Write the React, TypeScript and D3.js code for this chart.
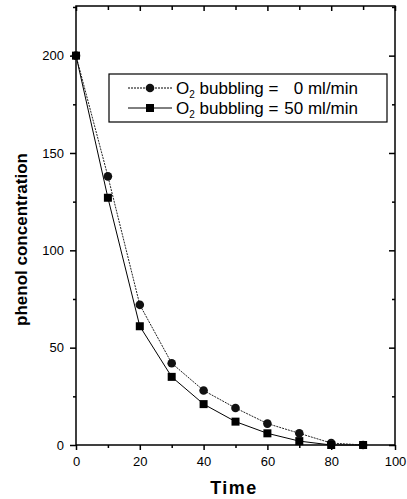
import React, { useEffect, useRef } from "react";
import * as d3 from "d3";

const times = [0, 10, 20, 30, 40, 50, 60, 70, 80, 90];
const noBubbling = [200, 138, 72, 42, 28, 19, 11, 6, 1, 0];
const bubbling50 = [200, 127, 61, 35, 21, 12, 6, 2, 0, 0];
const xTicks = [0, 20, 40, 60, 80, 100];
const yTicks = [0, 50, 100, 150, 200];
const legendLabels = ["0 ml/min", "50 ml/min"];

const App = () => {
	const svgRef = useRef<SVGSVGElement | null>(null);

	useEffect(() => {
		const svg = d3.select(svgRef.current);
		svg.selectAll("*").remove();

		const left = 76, right = 395, top = 6, bottom = 445;
		const font = "Arial, 'Liberation Sans', sans-serif";

		const x = d3.scaleLinear().domain([0, 100]).range([left, right]);
		const y = d3.scaleLinear().domain([0, 225.5]).range([bottom, top]);

		// frame
		svg
			.append("rect")
			.attr("x", left)
			.attr("y", top)
			.attr("width", right - left)
			.attr("height", bottom - top)
			.attr("fill", "none")
			.attr("stroke", "#000")
			.attr("stroke-width", 1.5);

		const styleAxis = (g) => {
			g.select(".domain").remove();
			g.selectAll("line").attr("stroke", "#000").attr("stroke-width", 1.5);
			g.selectAll("text")
				.attr("font-family", font)
				.attr("font-size", 13)
				.attr("fill", "#000");
		};

		// bottom axis, ticks outward
		const xMinor = d3.range(10, 100, 20);
		svg
			.append("g")
			.attr("transform", `translate(0,${bottom})`)
			.call(d3.axisBottom(x).tickValues(xTicks).tickSize(5).tickPadding(7).tickFormat(d3.format("d")))
			.call(styleAxis);
		svg
			.append("g")
			.attr("transform", `translate(0,${bottom})`)
			.call(d3.axisBottom(x).tickValues(xMinor).tickSize(3).tickFormat(() => ""))
			.call(styleAxis);

		// top axis, ticks inward
		svg
			.append("g")
			.attr("transform", `translate(0,${top})`)
			.call(d3.axisBottom(x).tickValues(xTicks).tickSize(5).tickFormat(() => ""))
			.call(styleAxis);
		svg
			.append("g")
			.attr("transform", `translate(0,${top})`)
			.call(d3.axisBottom(x).tickValues(xMinor).tickSize(4).tickFormat(() => ""))
			.call(styleAxis);

		// left axis, ticks outward
		const yMinor = [25, 75, 125, 175, 225];
		svg
			.append("g")
			.attr("transform", `translate(${left},0)`)
			.call(d3.axisLeft(y).tickValues(yTicks).tickSize(6).tickPadding(6).tickFormat(d3.format("d")))
			.call(styleAxis);
		svg
			.append("g")
			.attr("transform", `translate(${left},0)`)
			.call(d3.axisLeft(y).tickValues(yMinor).tickSize(3).tickFormat(() => ""))
			.call(styleAxis);

		// right axis, ticks inward
		svg
			.append("g")
			.attr("transform", `translate(${right},0)`)
			.call(d3.axisLeft(y).tickValues(yTicks).tickSize(6).tickFormat(() => ""))
			.call(styleAxis);
		svg
			.append("g")
			.attr("transform", `translate(${right},0)`)
			.call(d3.axisLeft(y).tickValues(yMinor).tickSize(3).tickFormat(() => ""))
			.call(styleAxis);

		const line = d3
			.line<number>()
			.x((d, i) => x(times[i]))
			.y((d) => y(d));

		svg
			.append("path")
			.datum(noBubbling)
			.attr("d", line)
			.attr("fill", "none")
			.attr("stroke", "#222")
			.attr("stroke-width", 1)
			.attr("stroke-dasharray", "2,1");

		svg
			.append("path")
			.datum(bubbling50)
			.attr("d", line)
			.attr("fill", "none")
			.attr("stroke", "#000")
			.attr("stroke-width", 1);

		svg
			.append("g")
			.selectAll("circle")
			.data(noBubbling)
			.enter()
			.append("circle")
			.attr("cx", (d, i) => x(times[i]))
			.attr("cy", (d) => y(d))
			.attr("r", 4.3)
			.attr("fill", "#111");

		svg
			.append("g")
			.selectAll("rect")
			.data(bubbling50)
			.enter()
			.append("rect")
			.attr("x", (d, i) => x(times[i]) - 4)
			.attr("y", (d) => y(d) - 4)
			.attr("width", 8)
			.attr("height", 8)
			.attr("fill", "#000");

		// legend
		const lg = svg.append("g");
		lg.append("rect")
			.attr("x", 109)
			.attr("y", 74)
			.attr("width", 278)
			.attr("height", 48)
			.attr("fill", "#fff")
			.attr("stroke", "#000")
			.attr("stroke-width", 1.2);

		legendLabels.forEach((label, i) => {
			const cy = 88 + i * 20;
			const row = lg.append("g");
			row.append("line")
				.attr("x1", 128)
				.attr("x2", 172)
				.attr("y1", cy)
				.attr("y2", cy)
				.attr("stroke", "#000")
				.attr("stroke-width", 1)
				.attr("stroke-dasharray", i === 0 ? "2,1" : null);
			if (i === 0) {
				row.append("circle").attr("cx", 150).attr("cy", cy).attr("r", 4.3).attr("fill", "#111");
			} else {
				row.append("rect").attr("x", 146).attr("y", cy - 4).attr("width", 8).attr("height", 8).attr("fill", "#000");
			}
			const t = row
				.append("text")
				.attr("x", 176)
				.attr("y", cy + 6)
				.attr("font-family", font)
				.attr("font-size", 17);
			t.append("tspan").text("O");
			t.append("tspan").attr("font-size", 10).attr("dy", 4).text("2");
			t.append("tspan").attr("dy", -4).text(" bubbling =");
			row.append("text")
				.attr("x", 358)
				.attr("y", cy + 6)
				.attr("text-anchor", "end")
				.attr("font-family", font)
				.attr("font-size", 17)
				.text(label);
		});

		// axis titles
		svg
			.append("text")
			.attr("transform", `translate(27,${(top + bottom) / 2 + 14}) rotate(-90)`)
			.attr("text-anchor", "middle")
			.attr("font-family", font)
			.attr("font-weight", "bold")
			.attr("font-size", 17)
			.text("phenol concentration");

		svg
			.append("text")
			.attr("x", 234)
			.attr("y", 494)
			.attr("text-anchor", "middle")
			.attr("font-family", font)
			.attr("font-weight", "bold")
			.attr("font-size", 18)
			.attr("letter-spacing", 1.5)
			.text("Time");
	}, []);

	return (
		<svg
			ref={svgRef}
			width={407}
			height={499}
			style={{ position: "absolute", left: 0, top: 0, background: "#fff" }}
		></svg>
	);
};

export default App;
